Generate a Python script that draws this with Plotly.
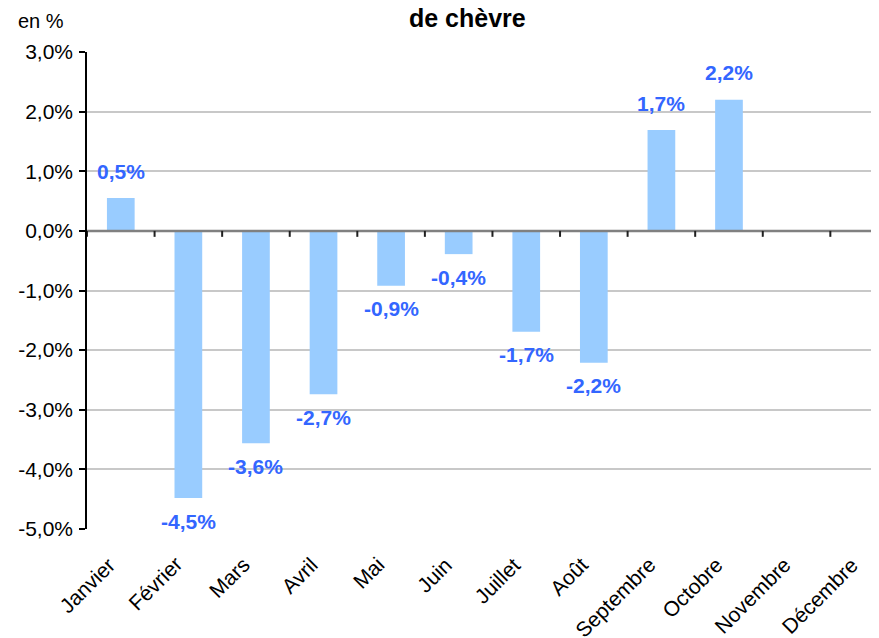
import plotly.graph_objects as go

mois = ["Janvier", "Février", "Mars", "Avril", "Mai", "Juin", "Juillet", "Août",
        "Septembre", "Octobre", "Novembre", "Décembre"]
valeurs = [0.55, -4.48, -3.56, -2.74, -0.92, -0.39, -1.69, -2.21, 1.69, 2.2, None, None]
etiquettes = ["0,5%", "-4,5%", "-3,6%", "-2,7%", "-0,9%", "-0,4%", "-1,7%", "-2,2%",
              "1,7%", "2,2%", "", ""]
y_ticks = [3, 2, 1, 0, -1, -2, -3, -4, -5]
y_ticktext = ["3,0%", "2,0%", "1,0%", "0,0%", "-1,0%", "-2,0%", "-3,0%", "-4,0%", "-5,0%"]

FONT = "Liberation Sans, Arial"
X_MAX = 11.22  # plot area continues past the right edge of the picture

fig = go.Figure()
fig.add_trace(go.Bar(x=list(range(len(mois))), y=valeurs, marker_color="#99CCFF",
                     marker_line_width=0, width=0.41, hoverinfo="skip"))

for i, (v, t) in enumerate(zip(valeurs, etiquettes)):
    if v is None or t == "":
        continue
    fig.add_annotation(x=i, y=v, text=t, showarrow=False,
                       yshift=27 if v > 0 else -23,
                       font=dict(family=FONT, size=21, color="#3366FF", weight="bold"))

# category labels, rotated
for i, m in enumerate(mois):
    fig.add_annotation(x=i, y=0, xref="x", yref="paper", text=m, showarrow=False,
                       textangle=-45, xanchor="right", yanchor="top",
                       xshift=1, yshift=-21,
                       font=dict(family=FONT, size=21, color="black"))

# zero line and tick marks at category boundaries
fig.add_shape(type="line", x0=-0.5, x1=X_MAX, y0=0, y1=0, xref="x", yref="y",
              line=dict(color="#808080", width=2.5), layer="above")
for i in range(len(mois)):
    fig.add_shape(type="line", x0=i - 0.5, x1=i - 0.5, y0=0, y1=-0.1,
                  xref="x", yref="y", line=dict(color="#202020", width=2))

fig.add_annotation(text="de chèvre", xref="paper", yref="paper", x=0.481, y=1,
                   yanchor="middle", yshift=34, showarrow=False,
                   font=dict(family=FONT, size=25, color="black", weight="bold"))
fig.add_annotation(text="en %", xref="paper", yref="paper", x=-0.09, y=1, xanchor="left",
                   yanchor="middle", yshift=31, showarrow=False,
                   font=dict(family=FONT, size=20, color="black"))

fig.update_layout(
    width=871, height=630,
    margin=dict(l=79, r=0, t=44, b=109),
    plot_bgcolor="white", paper_bgcolor="white",
    showlegend=False,
    font=dict(family=FONT, size=20, color="black"),
    xaxis=dict(range=[-0.5, X_MAX], showgrid=False, zeroline=False,
               showline=False, ticks="", showticklabels=False),
    yaxis=dict(tickmode="array", tickvals=y_ticks, ticktext=y_ticktext,
               range=[-5, 3], showgrid=True, gridcolor="#C8C8C8", gridwidth=1.5,
               zeroline=False, showline=True, linecolor="#000000", linewidth=1.5,
               ticks="outside", ticklen=6, tickcolor="#000000", tickwidth=1.5,
               tickfont=dict(size=21), ticklabelstandoff=2),
)

fig.write_html("out.html")
